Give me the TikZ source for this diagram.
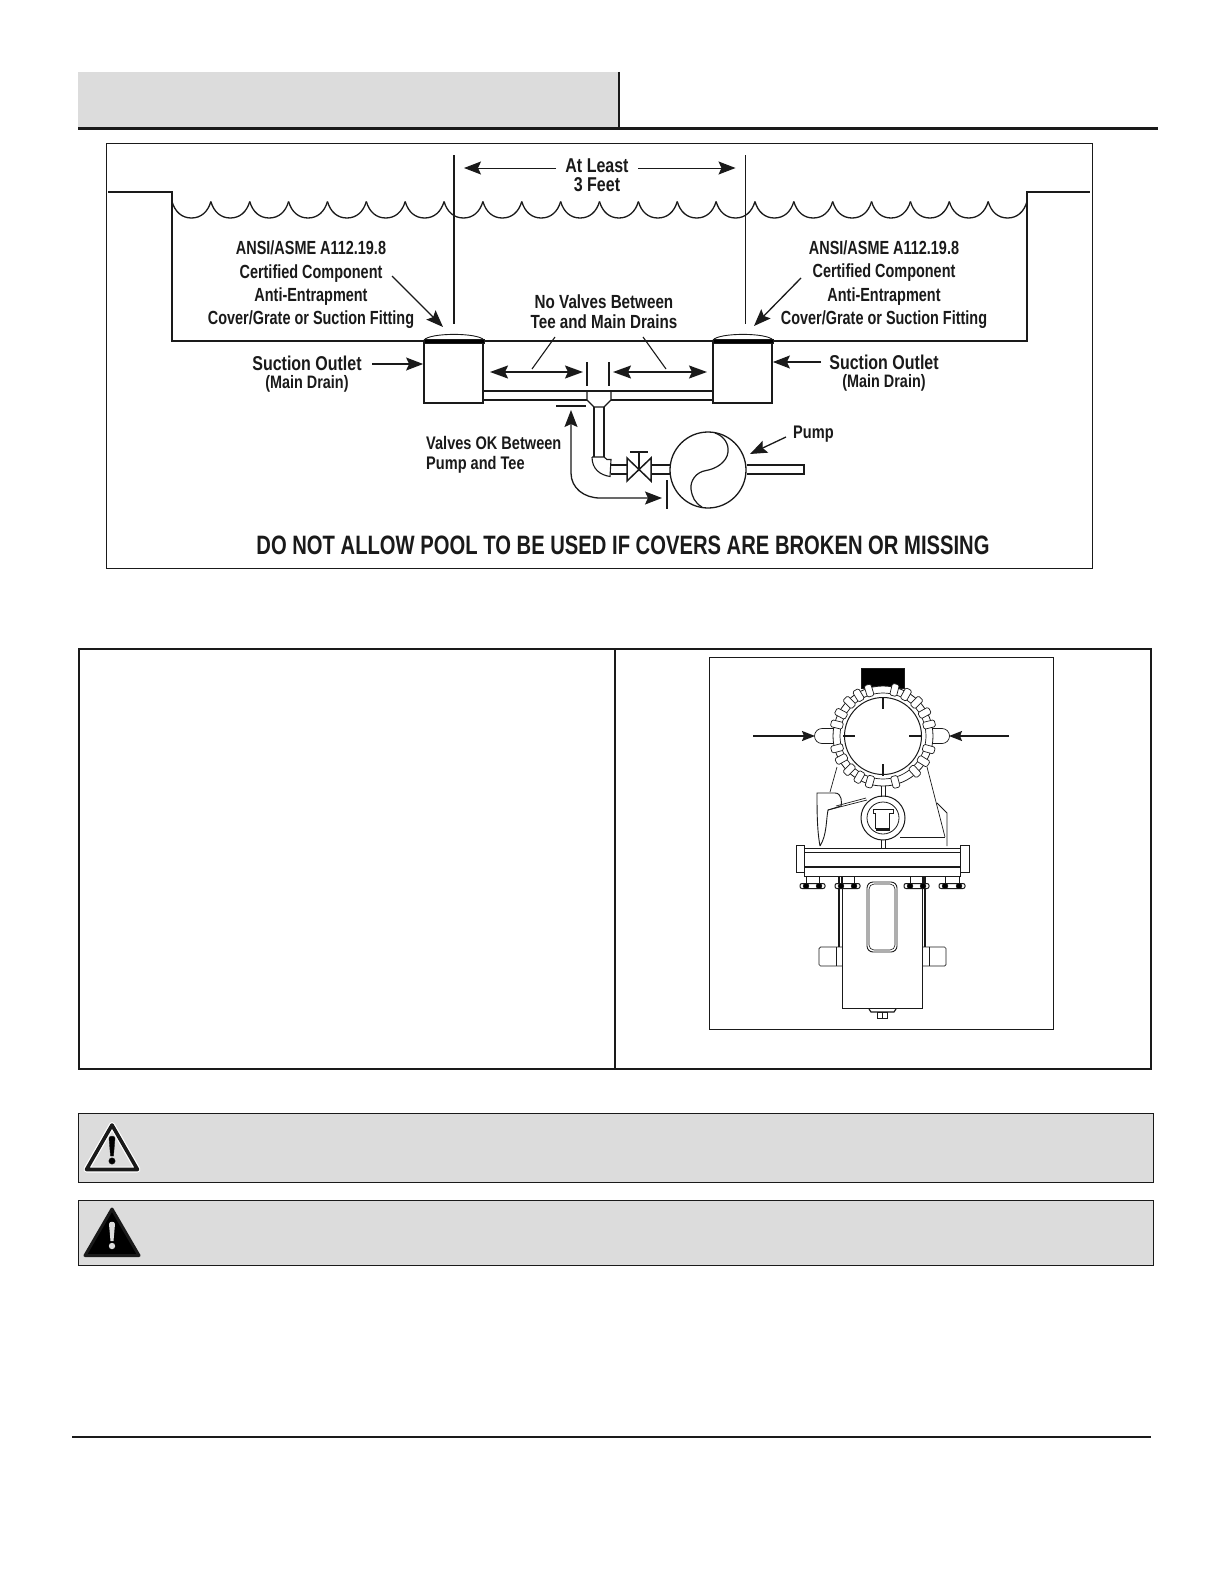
\documentclass[tikz,border=0pt]{standalone}
\usepackage{fontspec}
\setmainfont{Liberation Sans}
\newfontfamily\lab[FakeStretch=0.8]{Liberation Sans}
\newfontfamily\labn[FakeStretch=0.76]{Liberation Sans}
\usetikzlibrary{arrows.meta,calc}
\definecolor{panel}{HTML}{DCDCDC}
\definecolor{ink}{HTML}{1A1A1A}
\tikzset{
  ink/.style={draw=ink},
  pool/.style={draw=ink,line width=1.5pt},
  pipe/.style={draw=ink,line width=1.1pt},
  drawing/.style={draw=ink,line width=0.7pt},
  arr/.style={draw=ink,line width=1.3pt,-{Stealth[length=17pt,width=13pt,inset=3pt]}},
  dbl/.style={draw=ink,line width=1.6pt,{Stealth[length=18pt,width=13pt,inset=3pt]}-{Stealth[length=18pt,width=13pt,inset=3pt]}},
  lbl/.style={inner sep=0pt,text=ink,font=\labn\bfseries\fontsize{19}{23.3}\selectfont,align=center},
  lblat/.style={inner sep=0pt,text=ink,font=\lab\bfseries\fontsize{20}{19.2}\selectfont,align=center},
  lblsm/.style={inner sep=0pt,text=ink,font=\lab\bfseries\fontsize{19}{19.6}\selectfont,align=center},
  lblok/.style={inner sep=0pt,text=ink,font=\lab\bfseries\fontsize{18.2}{20}\selectfont,align=left},
  lblsuc/.style={inner sep=0pt,text=ink,font=\lab\bfseries\fontsize{20}{22}\selectfont},
  sub/.style={inner sep=0pt,text=ink,font=\lab\bfseries\fontsize{18}{20}\selectfont},
  drain/.style={draw=ink,line width=1.8pt,fill=white,minimum width=59pt,minimum height=60pt,inner sep=0pt},
  rib/.style={draw=ink,line width=0.7pt,fill=white,rounded corners=1.5pt,minimum width=12pt,minimum height=7pt,inner sep=0pt},
  bolt/.style={draw=ink,line width=1pt,fill=white,rounded corners=2pt},
}
\begin{document}
\begin{tikzpicture}[x=1pt,y=-1pt]
\useasboundingbox (0,0) rectangle (1224,1584);
\fill[white] (0,0) rectangle (1224,1584);
% header
\fill[panel] (78,72) rectangle (619,128);
\draw[draw=ink,line width=2.2pt] (78,128.5) -- (1158,128.5);
\draw[draw=ink,line width=1.5pt] (619,72) -- (619,128.5);
% frame
\draw[draw=ink,line width=1pt] (106.5,143.5) rectangle (1092,568.5);
% pool
\draw[pool] (108,192) -- (172,192) -- (172,341) -- (1027,341) -- (1027,192) -- (1090,192);
% waves
\foreach \i in {0,...,21}{
  \pgfmathsetmacro\xa{172+\i*38.864}
  \pgfmathsetmacro\xb{\xa+38.864}
  \draw[draw=ink,line width=1.3pt] (\xa,201.5) .. controls (\xa+3,212) and (\xa+10,218) .. (\xa+19.43,218) .. controls (\xb-10,218) and (\xb-3,212) .. (\xb,201.5);
}
% verticals
\draw[draw=ink,line width=1.2pt] (454,155) -- (454,324);
\draw[draw=ink,line width=1.2pt] (745.5,155) -- (745.5,324);
% at least
\node[lblat] (atleast) at (597,175) {At Least\\3 Feet};
\coordinate (alL) at (454,168);
\coordinate (alR) at (745.5,168);
\draw[arr,line width=1pt,shorten >=10pt] (556,168) -- (alL);
\draw[arr,line width=1pt,shorten >=10pt] (638,168) -- (alR);
% cover labels
\node[lbl] (certL) at (311,285) {ANSI/ASME A112.19.8\\Certified Component\\Anti-Entrapment\\Cover/Grate or Suction Fitting};
\node[lbl] (certR) at (884,284.5) {ANSI/ASME A112.19.8\\Certified Component\\Anti-Entrapment\\Cover/Grate or Suction Fitting};
% pipes
\draw[pipe] (483,391) -- (587,391) (483,400) -- (587,400);
\draw[pipe] (611,391) -- (713,391) (611,400) -- (713,400);
\draw[pipe] (587,391) -- (587,400) -- (594,407) -- (604,407) -- (611,400) -- (611,391);
\draw[pipe] (587,391) -- (611,391);
\draw[pipe] (594,407) -- (594,457) (604,407) -- (604,457);
% elbow
\draw[pipe] (592,457) -- (604,457) -- (607,459.5) -- (611,459.5) -- (610,476.5) .. controls (600,475) and (592,469) .. (592,457);
% valve & pump piping
\draw[pipe] (611,465) -- (627,465) (611,474) -- (627,474);
\draw[pipe] (651,465) -- (671,465) (651,474) -- (671,474);
\draw[draw=ink,line width=1.5pt] (627,458) -- (651,481) -- (651,458) -- (627,481) -- cycle;
\draw[pipe] (639,469.5) -- (639,452) (630,452) -- (648,452);
\node[draw=ink,line width=1.3pt,circle,minimum size=76pt,inner sep=0pt] (pump) at (708,470) {};
\draw[draw=ink,line width=1.2pt] (715,433) .. controls (724,436) and (729,444) .. (728,452) .. controls (727,462) and (716,469) .. (706,470.5) .. controls (696,472) and (690,481) .. (691,489) .. controls (692,497) and (695,503) .. (702,507);
\draw[pipe] (pump.east |- 0,465) -- (804,465) -- (804,474) -- (pump.east |- 0,474);
% drains
\node[drain] (drainL) at (453.5,373) {};
\node[drain] (drainR) at (742.5,373) {};
\foreach \c in {454,743}{
  \draw[draw=ink,line width=0.9pt,fill=white] (\c-30,340) .. controls (\c-24,332.5) and (\c+24,332.5) .. (\c+30,340);
  \fill[ink] (\c-30,339) -- (\c+30,339) -- (\c+30,343.5) -- (\c-30,343.5) -- cycle;
}
% cover arrows
\coordinate (covL) at (443,327);
\coordinate (covR) at (754,326);
\draw[arr] (392,276) -- (covL);
\draw[arr] (801,278) -- (covR);
% suction outlets
\node[lblsuc] (sucL) at (307,363) {Suction Outlet};
\node[sub] (mdL) at (307,384) {(Main Drain)};
\node[lblsuc] (sucR) at (884,362.5) {Suction Outlet};
\node[sub] (mdR) at (884,382.5) {(Main Drain)};
\draw[arr] (372,364) -- (drainL.west |- 0,364);
\draw[arr] (821,362) -- (drainR.east |- 0,362);
% no valves
\node[lblsm] (noval) at (604,312) {No Valves Between\\Tee and Main Drains};
\coordinate (dlA) at (490,372); \coordinate (dlB) at (583,372);
\coordinate (drA) at (613,372); \coordinate (drB) at (707,372);
\draw[dbl] (dlA) -- (dlB);
\draw[dbl] (drA) -- (drB);
\draw[draw=ink,line width=1.1pt] (587,362) -- (587,386) (609,362) -- (609,386);
\draw[draw=ink,line width=1.1pt] (555,337) -- (532,369);
\draw[draw=ink,line width=1.1pt] (643,337) -- (666,369);
% valves ok
\node[lblok,anchor=west] (vok) at (426,454.5) {Valves OK Between\\Pump and Tee};
\draw[draw=ink,line width=1.1pt] (556,406) -- (586,406);
\draw[draw=ink,line width=1.1pt] (667,480) -- (667,509);
\coordinate (vokA) at (571,410);
\coordinate (vokB) at (662,498);
\draw[draw=ink,line width=1.3pt,{Stealth[length=17pt,width=13pt,inset=3pt]}-{Stealth[length=17pt,width=13pt,inset=3pt]}] (vokA) -- (571,473) .. controls (571,488) and (584,498) .. (600,498) -- (vokB);
% pump label
\node[lblok,anchor=west] (pumplab) at (793,434.5) {Pump};
\coordinate (pumpar) at (750,454);
\draw[arr] (786,437) -- (pumpar);
% notice
\node[inner sep=0pt,text=ink,font=\labn\bfseries\fontsize{26.6}{28}\selectfont] (notice) at (623,545) {DO NOT ALLOW POOL TO BE USED IF COVERS ARE BROKEN OR MISSING};

% table
\draw[draw=ink,line width=1.6pt] (79,649) rectangle (1151,1069);
\draw[draw=ink,line width=1.6pt] (615,649) -- (615,1069);
\draw[draw=ink,line width=0.8pt] (709,657.5) rectangle (1053.5,1029);

% pump picture: body
\fill[ink] (861,668) rectangle (904,688);
\draw[drawing] (837,767) -- (830,792);
\draw[drawing] (927,767) -- (945,837);
\draw[draw=ink,line width=0.9pt] (820,846) .. controls (817,830) and (817,810) .. (817,793) -- (835,793) .. controls (842,793) and (842,803) .. (841,806) -- (828,810) .. controls (826,820) and (827,835) .. (820,846);
\draw[drawing] (828,810) -- (867,800) (836,806) -- (866,798);
\draw[draw=ink,line width=0.9pt] (937,803) -- (947,813) -- (947,846);
\draw[drawing] (900,837) -- (945,837);
\node[draw=ink,line width=1pt,circle,fill=white,minimum size=44pt,inner sep=0pt] (port) at (883,818) {};
\node[draw=ink,line width=0.8pt,circle,minimum size=32pt,inner sep=0pt] (portin) at (883,818) {};
\draw[draw=ink,line width=1pt] (873,809) -- (893,809) -- (893,813) -- (889,813) -- (889,828) -- (875,828) -- (875,813) -- (873,813) -- cycle;
\draw[draw=ink,line width=1.2pt] (876,830) -- (890,830);
\draw[drawing] (881,785) -- (881,797) (885,785) -- (885,797);
\draw[drawing] (881,840) -- (881,848) (885,840) -- (885,848);
% knobs
\draw[drawing] (835,728.5) -- (822,728.5) arc[start angle=270,end angle=90,radius=7.5] -- (835,743.5);
\draw[drawing] (931,728.5) -- (942,728.5) arc[start angle=-90,end angle=90,radius=7.5] -- (931,743.5);
% ring
\node[draw=ink,line width=0.8pt,circle,fill=white,minimum size=100pt,inner sep=0pt] (ringout) at (883,736) {};
\node[draw=ink,line width=0.7pt,circle,minimum size=86pt,inner sep=0pt] (ringmid) at (883,736) {};
\node[draw=ink,line width=1pt,circle,minimum size=77pt,inner sep=0pt] (ringin) at (883,736) {};
\foreach \a in {152,166,135,121,107,76,61,45,29,14,-16,-32,-48,-75,-106,-120,-135,-151,-165}{
  \node[rib,rotate=\a] (rib\a) at ({883+47.5*cos(\a)},{736-47.5*sin(\a)}) {};
}
\draw[draw=ink,line width=1.6pt] (883,698) -- (883,709) (883,764) -- (883,776) (843,736) -- (855,736) (909,736) -- (922,736);
\coordinate (pkL) at (815,736);
\coordinate (pkR) at (949,736);
\draw[draw=ink,line width=1.6pt,-{Stealth[length=13pt,width=10pt,inset=2pt]}] (753,736) -- (pkL);
\draw[draw=ink,line width=1.6pt,-{Stealth[length=13pt,width=10pt,inset=2pt]}] (1009,736) -- (pkR);
% flange
\draw[drawing] (796,845) rectangle (804,872);
\draw[drawing] (960,845) rectangle (969,872);
\draw[draw=ink,line width=0.9pt] (804,848) rectangle (960,876);
\draw[drawing] (804,852) -- (960,852);
\draw[draw=ink,line width=1.5pt] (804,867) -- (960,867);
% body below flange
\draw[drawing] (842,876) -- (842,1008) -- (922,1008) -- (922,876);
\draw[draw=ink,line width=1.4pt] (839,876) -- (839,947);
\draw[draw=ink,line width=1.4pt] (925,876) -- (925,947);
\draw[draw=ink,line width=0.9pt,rounded corners=6pt] (867,882) rectangle (897,952);
\draw[draw=ink,line width=0.6pt,rounded corners=5pt] (869,884) rectangle (895,950);
\draw[drawing,rounded corners=1.5pt] (842,947) -- (819,947) -- (819,966) -- (842,966);
\draw[drawing] (836,947) -- (836,966);
\draw[drawing,rounded corners=1.5pt] (922,947) -- (946,947) -- (946,966) -- (922,966);
\draw[drawing] (929,947) -- (929,966);
\draw[draw=ink,line width=1.2pt] (869,1009) -- (871,1012) -- (894,1012) -- (896,1009);
\draw[drawing] (877,1012) rectangle (887,1018) (882,1012) -- (882,1018);
% bolts
\foreach \xa/\xb in {800/825,835/860,904/929,939/965}{
  \draw[bolt] (\xa,883.5) rectangle (\xb,888.5);
  \draw[drawing] (\xa+6,876) -- (\xa+6,884) (\xb-6,876) -- (\xb-6,884);
  \fill[ink] (\xa+6,886) ellipse [x radius=3,y radius=2.6];
  \fill[ink] (\xb-6,886) ellipse [x radius=3,y radius=2.6];
}
% warnings
\draw[draw=ink,line width=1pt,fill=panel] (78.5,1113) rectangle (1153.5,1182);
\draw[draw=ink,line width=1pt,fill=panel] (78.5,1200) rectangle (1153.5,1265);
\draw[draw=white,line width=6pt,line join=round] (112,1125) -- (86.5,1169.5) -- (137.5,1169.5) -- cycle;
\draw[draw=ink,line width=3.6pt,line join=round] (112,1125) -- (86.5,1169.5) -- (137.5,1169.5) -- cycle;
\fill[ink] (109,1138) .. controls (109,1135.5) and (115,1135.5) .. (115,1138) -- (113.5,1156) -- (110.5,1156) -- cycle;
\fill[ink] (112,1161) circle[radius=3.2];
\fill[ink,draw=ink,line width=3pt,line join=round] (112,1209) -- (85,1255.5) -- (139,1255.5) -- cycle;
\fill[panel] (109,1224) .. controls (109,1221) and (115,1221) .. (115,1224) -- (113.5,1241) -- (110.5,1241) -- cycle;
\fill[panel] (112,1246) circle[radius=3.2];
% footer rule
\draw[draw=ink,line width=2pt] (72,1436.5) -- (1151,1436.5);
\end{tikzpicture}
\end{document}
